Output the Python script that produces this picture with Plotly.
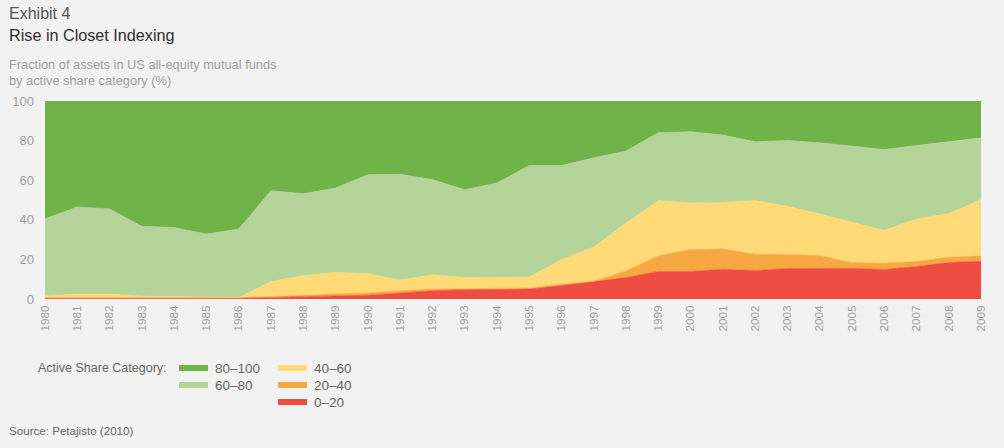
import plotly.graph_objects as go

years = list(range(1980, 2010))

share_0_20 = [0.3, 0.3, 0.3, 0.3, 0.3, 0.3, 0.4, 0.8, 1.2, 1.3, 1.9, 3.0, 4.2, 4.7, 4.7,
              5.0, 6.8, 8.8, 10.8, 13.9, 13.9, 15.0, 14.4, 15.4, 15.4, 15.5, 14.9, 16.4, 18.4, 19.1]
share_20_40 = [0.4, 0.4, 0.4, 0.4, 0.4, 0.4, 0.3, 0.4, 0.8, 1.3, 1.1, 1.2, 0.8, 0.5, 0.5,
               0.6, 0.6, 0.2, 3.4, 7.9, 11.1, 10.3, 8.2, 7.1, 6.6, 2.9, 3.2, 2.5, 2.7, 2.7]
share_40_60 = [0.8, 1.8, 1.8, 0.7, 0.5, 0.3, 0.1, 7.6, 9.8, 10.9, 9.7, 5.4, 7.2, 5.6, 5.6,
               5.4, 12.4, 17.2, 24.1, 27.9, 23.5, 23.5, 27.2, 24.3, 20.9, 20.3, 16.5, 21.5, 22.0, 28.4]
share_60_80 = [39.0, 44.0, 43.0, 35.3, 34.9, 31.8, 34.5, 45.9, 41.4, 42.5, 50.1, 53.4, 48.1, 44.4, 47.8,
               56.4, 47.6, 45.1, 36.4, 34.3, 36.0, 34.0, 29.6, 33.3, 36.0, 38.5, 40.9, 37.1, 36.3, 31.2]
share_80_100 = [59.5, 53.5, 54.5, 63.3, 63.9, 67.2, 64.7, 45.3, 46.8, 44.0, 37.2, 37.0, 39.7, 44.8, 41.4,
                32.6, 32.6, 28.7, 25.3, 16.0, 15.5, 17.2, 20.6, 19.9, 21.1, 22.8, 24.5, 22.5, 20.6, 18.6]

series_names = ["0–20", "20–40", "40–60", "60–80", "80–100"]
series_values = [share_0_20, share_20_40, share_40_60, share_60_80, share_80_100]
series_colors = ["#ef4d42", "#f8a842", "#ffda77", "#b5d49a", "#70b349"]

y_ticks = [0, 20, 40, 60, 80, 100]

BG = "#f2f2f2"
FONT = "Liberation Sans"

fig = go.Figure()
for name, vals, col in zip(series_names, series_values, series_colors):
    fig.add_trace(go.Scatter(
        x=years, y=vals, name=name, mode="lines", stackgroup="one",
        line=dict(width=0.6, color=col), fillcolor=col, showlegend=False,
        hoverinfo="x+y+name",
    ))

# plot-area pixel geometry
L, R, T, B = 45, 981, 101, 299
W, H = R - L, B - T


def px(x):
    return (x - L) / W


def py(y):
    return (B - y) / H


annotations = []


def text(x, y, s, size, color, xanchor="left"):
    annotations.append(dict(x=px(x), y=py(y), xref="paper", yref="paper", text=s,
                            showarrow=False, xanchor=xanchor, yanchor="middle",
                            font=dict(family=FONT, size=size, color=color)))


text(7, 13, "Exhibit 4", 16, "#555555")
text(7, 35, "Rise in Closet Indexing", 16.2, "#2e2e2e")
text(7, 64, "Fraction of assets in US all-equity mutual funds", 12.8, "#a0a0a0")
text(7, 80, "by active share category (%)", 12.8, "#a0a0a0")
text(7, 430, "Source: Petajisto (2010)", 11.6, "#666666")
text(169, 368, "Active Share Category:", 12.5, "#666666", xanchor="right")

shapes = []
legend_layout = [
    ("80–100", 4, 179, 368),
    ("60–80", 3, 179, 385),
    ("40–60", 2, 278, 368),
    ("20–40", 1, 278, 385),
    ("0–20", 0, 278, 402),
]
for label, idx, x0, yc in legend_layout:
    shapes.append(dict(type="rect", xref="paper", yref="paper",
                       x0=px(x0), x1=px(x0 + 29), y0=py(yc + 3), y1=py(yc - 3),
                       fillcolor=series_colors[idx], line=dict(width=0)))
    text(x0 + 34, yc, label, 13.5, "#666666")

fig.update_layout(
    width=1004, height=448,
    margin=dict(l=L, r=1004 - R, t=T, b=448 - B),
    paper_bgcolor=BG, plot_bgcolor=BG,
    font=dict(family=FONT, color="#999999"),
    annotations=annotations, shapes=shapes,
    showlegend=False,
    xaxis=dict(range=[1980, 2009], tickmode="array", tickvals=years,
               ticktext=[str(y) for y in years], tickangle=-90,
               tickfont=dict(size=11.8, color="#a0a0a0"), showgrid=False,
               zeroline=False, showline=False, ticks="", ticklabelstandoff=3),
    yaxis=dict(range=[0, 100], tickvals=y_ticks, showgrid=False, zeroline=False,
               showline=False, ticks="", tickfont=dict(size=13, color="#a0a0a0"),
               ticklabelstandoff=10),
)

fig.write_html(
    "out.html",
    config={"displayModeBar": False},
    post_script="document.body.style.margin='0';document.body.style.background='#f2f2f2';",
)
